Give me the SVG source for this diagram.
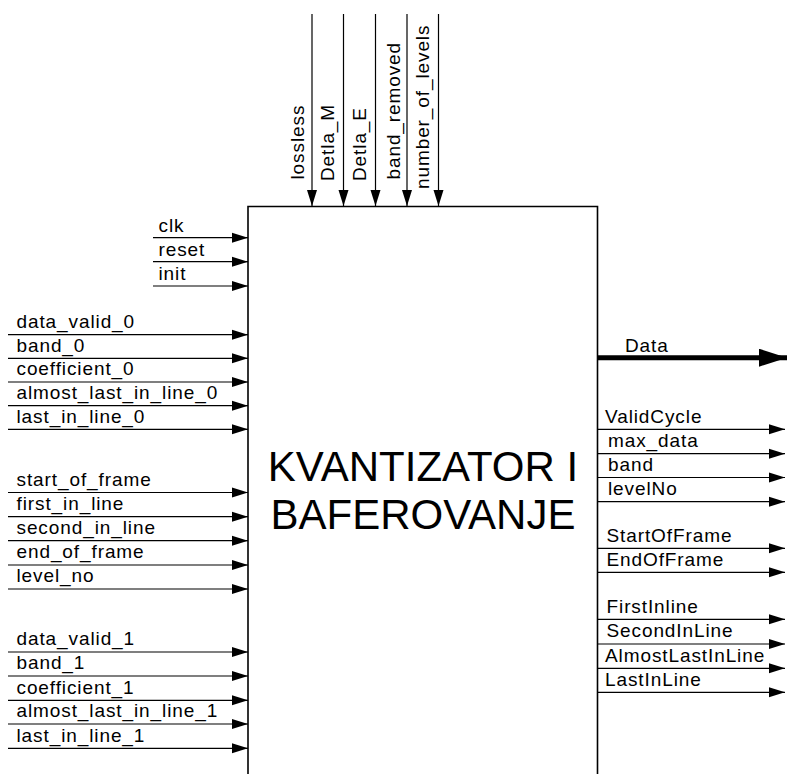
<svg xmlns="http://www.w3.org/2000/svg" width="787" height="774" viewBox="0 0 787 774">
<style>
  .lbl { font-family: "Liberation Sans", Arial, sans-serif; font-size: 19px; letter-spacing: 0.9px; fill: #000; }
  .title { font-family: "Liberation Sans", Arial, sans-serif; font-size: 42px; fill: #000; text-anchor: middle; }
  .wire { stroke: #000; stroke-width: 1.2; fill: none; marker-end: url(#arr); }
  .bus { stroke: #000; stroke-width: 5; fill: none; marker-end: url(#arrBig); }
  .box { fill: #fff; stroke: #000; stroke-width: 1.6; }
</style>
<defs>
  <marker id="arr" markerUnits="userSpaceOnUse" markerWidth="18" markerHeight="12" refX="16" refY="5.5" orient="auto" viewBox="0 0 18 12">
    <path d="M0,0.5 L16,5.5 L0,10.5 Z" fill="#000"/>
  </marker>
  <marker id="arrBig" markerUnits="userSpaceOnUse" markerWidth="30" markerHeight="20" refX="28" refY="9" orient="auto" viewBox="0 0 30 20">
    <path d="M0,0 L28,9 L0,18 Z" fill="#000"/>
  </marker>
</defs>
<rect width="787" height="774" fill="#fff"/>

<g id="block">
  <path class="box" d="M248,790 L248,206.5 L597.5,206.5 L597.5,790"/>
  <text class="title" x="423" y="480.5">KVANTIZATOR I</text>
  <text class="title" x="423" y="529">BAFEROVANJE</text>
</g>

<g id="connectors">
  <g id="top-inputs">
    <line class="wire" x1="312" y1="14" x2="312" y2="206"/>
    <line class="wire" x1="343.5" y1="14" x2="343.5" y2="206"/>
    <line class="wire" x1="375.5" y1="14" x2="375.5" y2="206"/>
    <line class="wire" x1="407" y1="14" x2="407" y2="206"/>
    <line class="wire" x1="438.5" y1="14" x2="438.5" y2="206"/>
    <text class="lbl" transform="translate(303.5,179.5) rotate(-90)">lossless</text>
    <text class="lbl" transform="translate(334,181) rotate(-90)">Detla_M</text>
    <text class="lbl" transform="translate(365.5,181) rotate(-90)">Detla_E</text>
    <text class="lbl" transform="translate(400,179.5) rotate(-90)">band_removed</text>
    <text class="lbl" transform="translate(428.5,189) rotate(-90)">number_of_levels</text>
  </g>

  <g id="left-ctrl">
    <line class="wire" x1="153" y1="237.7" x2="248" y2="237.7"/>
    <line class="wire" x1="153" y1="261.7" x2="248" y2="261.7"/>
    <line class="wire" x1="153" y1="286" x2="248" y2="286"/>
    <text class="lbl" x="158.5" y="231.5">clk</text>
    <text class="lbl" x="158.5" y="255.5">reset</text>
    <text class="lbl" x="158.5" y="279.8">init</text>
  </g>

  <g id="left-ch0">
    <line class="wire" x1="8" y1="334.7" x2="248" y2="334.7"/>
    <line class="wire" x1="8" y1="358.3" x2="248" y2="358.3"/>
    <line class="wire" x1="8" y1="382" x2="248" y2="382"/>
    <line class="wire" x1="8" y1="405.7" x2="248" y2="405.7"/>
    <line class="wire" x1="8" y1="429.3" x2="248" y2="429.3"/>
    <text class="lbl" x="16.5" y="328">data_valid_0</text>
    <text class="lbl" x="16.5" y="351.7">band_0</text>
    <text class="lbl" x="16.5" y="375.4">coefficient_0</text>
    <text class="lbl" x="16.5" y="399.1">almost_last_in_line_0</text>
    <text class="lbl" x="16.5" y="422.7">last_in_line_0</text>
  </g>

  <g id="left-frame">
    <line class="wire" x1="8" y1="492.5" x2="248" y2="492.5"/>
    <line class="wire" x1="8" y1="516.7" x2="248" y2="516.7"/>
    <line class="wire" x1="8" y1="540.7" x2="248" y2="540.7"/>
    <line class="wire" x1="8" y1="565" x2="248" y2="565"/>
    <line class="wire" x1="8" y1="589" x2="248" y2="589"/>
    <text class="lbl" x="16.5" y="485.9">start_of_frame</text>
    <text class="lbl" x="16.5" y="510.1">first_in_line</text>
    <text class="lbl" x="16.5" y="534.1">second_in_line</text>
    <text class="lbl" x="16.5" y="558.4">end_of_frame</text>
    <text class="lbl" x="16.5" y="582.4">level_no</text>
  </g>

  <g id="left-ch1">
    <line class="wire" x1="8" y1="652" x2="248" y2="652"/>
    <line class="wire" x1="8" y1="676" x2="248" y2="676"/>
    <line class="wire" x1="8" y1="700.3" x2="248" y2="700.3"/>
    <line class="wire" x1="8" y1="724" x2="248" y2="724"/>
    <line class="wire" x1="8" y1="748.3" x2="248" y2="748.3"/>
    <text class="lbl" x="16.5" y="645.4">data_valid_1</text>
    <text class="lbl" x="16.5" y="669.4">band_1</text>
    <text class="lbl" x="16.5" y="693.7">coefficient_1</text>
    <text class="lbl" x="16.5" y="717.4">almost_last_in_line_1</text>
    <text class="lbl" x="16.5" y="741.7">last_in_line_1</text>
  </g>

  <g id="right-data">
    <line class="bus" x1="597.5" y1="357.7" x2="787" y2="357.7"/>
    <text class="lbl" x="625" y="351.5">Data</text>
  </g>

  <g id="right-valid">
    <line class="wire" x1="597.5" y1="429.3" x2="785" y2="429.3"/>
    <line class="wire" x1="597.5" y1="453.7" x2="785" y2="453.7"/>
    <line class="wire" x1="597.5" y1="477.5" x2="785" y2="477.5"/>
    <line class="wire" x1="597.5" y1="501.7" x2="785" y2="501.7"/>
    <text class="lbl" x="605" y="422.7">ValidCycle</text>
    <text class="lbl" x="608" y="447.1">max_data</text>
    <text class="lbl" x="608" y="470.9">band</text>
    <text class="lbl" x="608" y="495.1">levelNo</text>
  </g>

  <g id="right-frame">
    <line class="wire" x1="597.5" y1="548.3" x2="785" y2="548.3"/>
    <line class="wire" x1="597.5" y1="572.3" x2="785" y2="572.3"/>
    <text class="lbl" x="606.5" y="541.7">StartOfFrame</text>
    <text class="lbl" x="606.5" y="565.7">EndOfFrame</text>
  </g>

  <g id="right-line">
    <line class="wire" x1="597.5" y1="619.3" x2="785" y2="619.3"/>
    <line class="wire" x1="597.5" y1="644" x2="785" y2="644"/>
    <line class="wire" x1="597.5" y1="668.3" x2="785" y2="668.3"/>
    <line class="wire" x1="597.5" y1="692.3" x2="785" y2="692.3"/>
    <text class="lbl" x="606.5" y="612.7">FirstInline</text>
    <text class="lbl" x="606.5" y="637.4">SecondInLine</text>
    <text class="lbl" x="605" y="661.7">AlmostLastInLine</text>
    <text class="lbl" x="605" y="685.7">LastInLine</text>
  </g>
</g>
</svg>
